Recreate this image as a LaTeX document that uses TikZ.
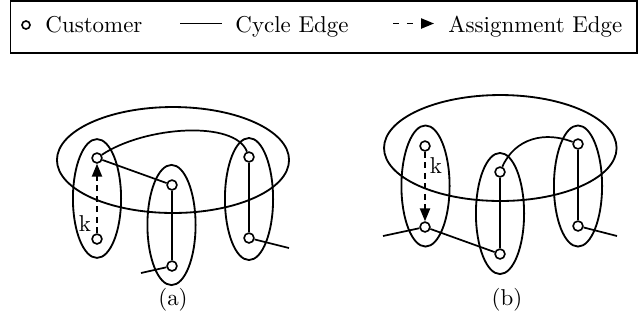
\documentclass[tikz,border=0pt]{standalone}
\usetikzlibrary{arrows.meta}
\begin{document}
\begin{tikzpicture}[x=0.436pt, y=-0.436pt,
  cust/.style={circle, draw, fill=white, inner sep=0pt, minimum size=4.3pt, line width=0.7pt},
  legcust/.style={circle, draw, fill=white, inner sep=0pt, minimum size=3.5pt, line width=0.7pt},
  grp/.style={draw, line width=0.8pt},
  cyc/.style={line width=0.75pt},
  asg/.style={line width=0.75pt, dash pattern=on 2.6pt off 2pt, -{Triangle[length=5.6pt,width=4.4pt]}},
  legasg/.style={asg, dash pattern=on 2.5pt off 3.5pt},
  lbl/.style={inner sep=0pt, font=\normalsize},
  legtxt/.style={inner sep=0pt, anchor=base west}]
\useasboundingbox (0,0) rectangle (638,326);

% legend
\draw[line width=0.5pt] (10.5,1) rectangle (637,53);
\node[legcust] (lc) at (26,25) {};
\node[legtxt] (lct) at (45,32) {Customer};
\coordinate (ly1) at (180,23.5);
\coordinate (ly2) at (222,23.5);
\draw[cyc] (ly1) -- (ly2);
\node[legtxt] (lyt) at (235,32) {Cycle Edge};
\coordinate (la1) at (393,23.5);
\coordinate (la2) at (434,23.5);
\draw[legasg] (la1) -- (la2);
\node[legtxt] (lat) at (448,32) {Assignment Edge};

% (a) groups
\draw[grp] (173,160) ellipse [x radius=50.6pt, y radius=23.1pt];
\draw[grp] (97,198.5) ellipse [x radius=10.5pt, y radius=25.9pt];
\draw[grp] (171.5,225) ellipse [x radius=10.5pt, y radius=26.2pt];
\draw[grp] (249,199) ellipse [x radius=10.5pt, y radius=26.6pt];

% (a) customers
\node[cust] (a1) at (97,158) {};
\node[cust] (a2) at (97,239) {};
\node[cust] (a3) at (172,185) {};
\node[cust] (a4) at (172,266) {};
\node[cust] (a5) at (249,157) {};
\node[cust] (a6) at (249,238) {};
\coordinate (ae1) at (141,273);
\coordinate (ae2) at (289,248);

\draw[cyc] (a1) -- (a3);
\draw[cyc] (a1) .. controls (145,126) and (235,120) .. (a5);
\draw[cyc] (a3) -- (a4);
\draw[cyc] (a5) -- (a6);
\draw[cyc] (a6) -- (ae2);
\draw[cyc] (a4) -- (ae1);
\draw[asg] (a2) -- (a1);
\node[lbl] (ka) at (85,224) {k};
\node[lbl] (la) at (173,300) {(a)};

% (b) groups
\draw[grp] (500.3,148) ellipse [x radius=50.7pt, y radius=23.1pt];
\draw[grp] (425.5,186) ellipse [x radius=10.5pt, y radius=26.4pt];
\draw[grp] (500,213.5) ellipse [x radius=10.5pt, y radius=26.4pt];
\draw[grp] (578,186) ellipse [x radius=10.5pt, y radius=26.4pt];

% (b) customers
\node[cust] (b1) at (425,146) {};
\node[cust] (b2) at (425,227) {};
\node[cust] (b3) at (500,172) {};
\node[cust] (b4) at (500,254) {};
\node[cust] (b5) at (578,144) {};
\node[cust] (b6) at (578,226) {};
\coordinate (be1) at (383,236);
\coordinate (be2) at (617,236);

\draw[cyc] (be1) -- (b2);
\draw[cyc] (b2) -- (b4);
\draw[cyc] (b3) -- (b4);
\draw[cyc] (b3) .. controls (515,138) and (545,131) .. (b5);
\draw[cyc] (b5) -- (b6);
\draw[cyc] (b6) -- (be2);
\draw[asg] (b1) -- (b2);
\node[lbl] (kb) at (436,166) {k};
\node[lbl] (lb) at (507,300) {(b)};
\end{tikzpicture}
\end{document}
